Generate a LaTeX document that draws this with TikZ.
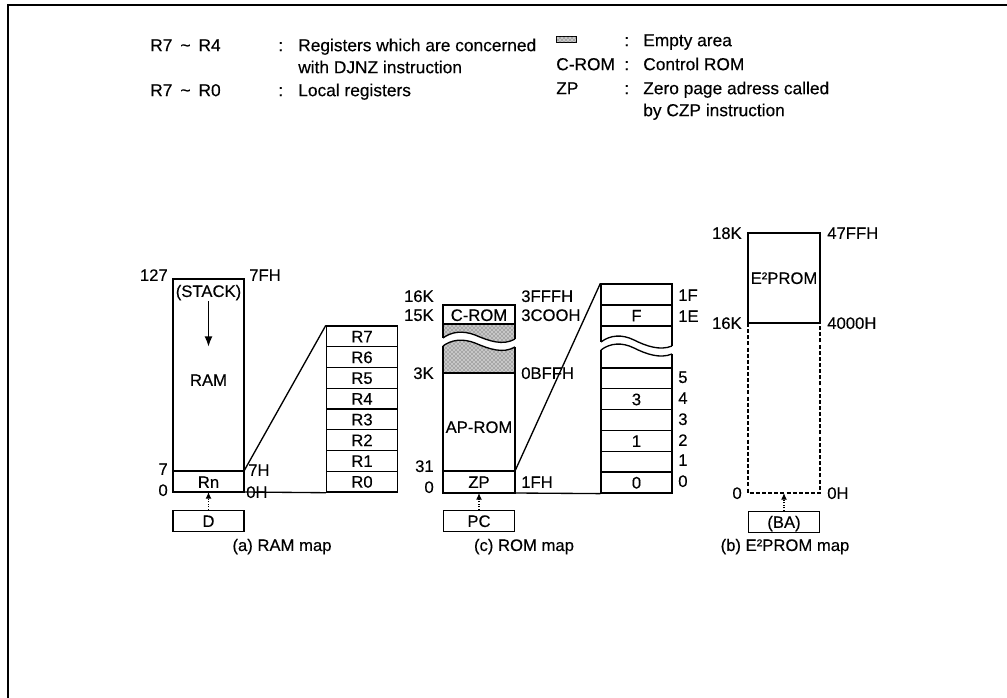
\documentclass[tikz,border=0pt]{standalone}
\usepackage{fontspec}
\setmainfont[FakeBold=0.3]{Liberation Sans}
\usetikzlibrary{patterns,arrows.meta}
\begin{document}
\begin{tikzpicture}[x=0.75pt,y=-0.75pt,
  lbl/.style={inner sep=0pt,font=\fontsize{12.5}{14}\selectfont,text height=8.95pt,text depth=0pt},
  leg/.style={inner sep=0pt,anchor=west,font=\fontsize{13}{15}\selectfont,text height=9.3pt,text depth=0pt},
  ln/.style={line width=1pt},
  cell/.style={lbl,draw,line width=1pt,minimum width=53.25pt,minimum height=15.6pt},
  ptr/.style={line width=0.9pt,densely dotted,-{Latex[length=5pt,width=4.5pt]}},
  emptyarea/.style={fill=black!22,postaction={pattern=crosshatch dots,pattern color=black!75}},
  dsh/.style={line width=1pt,dash pattern=on 3pt off 1.6pt},
]
\useasboundingbox (0,0) rectangle (1007,698);
\draw[line width=1.6pt] (1007,5) -- (8,5) -- (8,698);

% ---------- legend ----------
\node[leg] (l1a) at (150,45) {R7\hspace{6pt}\textasciitilde\hspace{6pt}R4};
\node[leg] (l1c) at (278,45) {:};
\node[leg] (l1t) at (298,45) {Registers which are concerned};
\node[leg] (l2t) at (298,67) {with DJNZ instruction};
\node[leg] (l3a) at (150,90) {R7\hspace{6pt}\textasciitilde\hspace{6pt}R0};
\node[leg] (l3c) at (278,90) {:};
\node[leg] (l3t) at (298,90) {Local registers};
\node[draw,line width=0.6pt,emptyarea,minimum width=15pt,minimum height=5pt,inner sep=0pt] (lgempty) at (566,39.5) {};
\node[leg] (r1c) at (624,40) {:};
\node[leg] (r1t) at (643,40) {Empty area};
\node[leg] (r2a) at (556,64) {C-ROM};
\node[leg] (r2c) at (624,64) {:};
\node[leg] (r2t) at (643,64) {Control ROM};
\node[leg] (r3a) at (556,88) {ZP};
\node[leg] (r3c) at (624,88) {:};
\node[leg] (r3t) at (643,88) {Zero page adress called};
\node[leg] (r4t) at (643,110) {by CZP instruction};

% ---------- (a) RAM map ----------
\draw[ln] (173,279) rectangle (244,492);
\draw[ln] (173,471) -- (244,471);
\coordinate (ram7) at (244,471);
\coordinate (ram0) at (244,492);
\coordinate (ramb) at (208.5,492);
\coordinate (stkend) at (208.5,347);
\node[lbl] (stack) at (208.5,291) {(STACK)};
\draw[line width=1.3pt,-{Latex[length=8pt,width=6pt]}] (stack.south) ++(0,4) -- (stkend);
\node[lbl] (ram) at (208.5,380) {RAM};
\node[lbl] (rn) at (208.5,482) {Rn};
\node[lbl,anchor=east] (a127) at (168,275) {127};
\node[lbl,anchor=east] (a7) at (168,469) {7};
\node[lbl,anchor=east] (a0) at (168,490) {0};
\node[lbl,anchor=west] (h7f) at (249,275) {7FH};
\node[lbl,anchor=west] (h7) at (248,470) {7H};
\node[lbl,anchor=west] (h0) at (246,492) {0H};
\foreach \n [count=\i from 0] in {R7,R6,R5,R4,R3,R2,R1,R0}
  \node[cell] (\n) at (362,{336.4+20.75*\i}) {\n};
\draw[ln] (ram7) -- (R7.north west);
\draw[ln] (ram0) -- (R0.south west);
\node[cell] (dbox) at (208.5,521) {D};
\draw[ptr] (dbox.north) -- (ramb);
\node[lbl] (capa) at (282,545) {(a) RAM map};

% ---------- (c) ROM map ----------
\path[emptyarea] (443,324) -- (443,338) .. controls (451,332) and (462,330) .. (475,335) .. controls (489,341) and (503,346) .. (515,339) -- (515,324) -- cycle;
\path[emptyarea] (443,346) .. controls (451,340) and (462,338) .. (475,343) .. controls (489,349) and (503,354) .. (515,347) -- (515,373) -- (443,373) -- cycle;
\draw[ln] (443,338) -- (443,305) -- (515,305) -- (515,339);
\draw[ln] (443,338) .. controls (451,332) and (462,330) .. (475,335) .. controls (489,341) and (503,346) .. (515,339);
\draw[ln] (443,346) .. controls (451,340) and (462,338) .. (475,343) .. controls (489,349) and (503,354) .. (515,347);
\draw[ln] (443,346) -- (443,493) -- (515,493) -- (515,347);
\draw[ln] (443,324) -- (515,324);
\draw[ln] (443,373) -- (515,373);
\draw[ln] (443,471) -- (515,471);
\coordinate (zptop) at (515,471);
\coordinate (rombot) at (515,493);
\coordinate (romb) at (479,493);
\node[lbl] (crom) at (479,315) {C-ROM};
\node[lbl] (aprom) at (479,427) {AP-ROM};
\node[lbl] (zp) at (479,482) {ZP};
\node[lbl,anchor=east] (k16) at (434,296) {16K};
\node[lbl,anchor=east] (k15) at (434,315) {15K};
\node[lbl,anchor=east] (k3) at (434,373) {3K};
\node[lbl,anchor=east] (k31) at (434,466) {31};
\node[lbl,anchor=east] (k0) at (434,487) {0};
\node[lbl,anchor=west] (h3fff) at (521,296) {3FFFH};
\node[lbl,anchor=west] (h3c00) at (521,315) {3COOH};
\node[lbl,anchor=west] (h0bff) at (521,373) {0BFFH};
\node[lbl,anchor=west] (h1f) at (521,482) {1FH};
% second stack
\node[cell] (c1f) at (636.5,294.5) {};
\node[cell] (c1e) at (636.5,315.5) {F};
\draw[ln] (601,326) -- (601,342);
\draw[ln] (672,326) -- (672,346);
\draw[ln] (601,342) .. controls (610,335) and (622,334) .. (634,340) .. controls (646,346) and (660,351) .. (672,346);
\draw[ln] (601,350) .. controls (610,343) and (622,342) .. (634,348) .. controls (646,354) and (660,359) .. (672,354);
\draw[ln] (601,350) -- (601,368);
\draw[ln] (672,354) -- (672,368);
\foreach \n/\t [count=\i from 0] in {c5/,c4/3,c3/,c2/1,c1/,c0/0}
  \node[cell] (\n) at (636.5,{378.4+20.83*\i}) {\t};
\foreach \t/\yy [count=\i] in {1F/295,1E/316,5/377,4/398,3/419,2/440,1/460,0/481}
  \node[lbl,anchor=west] (s\i) at (678,\yy) {\t};
\draw[ln] (zptop) -- (c1f.north west);
\draw[ln] (rombot) -- (c0.south west);
\node[cell] (pc) at (479,521) {PC};
\draw[ptr] (pc.north) -- (romb);
\node[lbl] (capc) at (524,545) {(c) ROM map};

% ---------- (b) E2PROM map ----------
\draw[ln] (748,323) -- (748,233) -- (820,233) -- (820,323) -- cycle;
\draw[dsh] (748,323) -- (748,493) -- (820,493) -- (820,323);
\coordinate (eb) at (784,493);
\node[lbl] (e2) at (784,278) {E²PROM};
\node[lbl,anchor=east] (e18) at (742,233) {18K};
\node[lbl,anchor=east] (e16) at (742,323) {16K};
\node[lbl,anchor=east] (e0) at (742,493) {0};
\node[lbl,anchor=west] (e47) at (827,233) {47FFH};
\node[lbl,anchor=west] (e40) at (827,323) {4000H};
\node[lbl,anchor=west] (e0h) at (827,493) {0H};
\node[cell] (ba) at (784,522) {(BA)};
\draw[ptr] (ba.north) -- (eb);
\node[lbl] (capb) at (785,545) {(b) E²PROM map};
\end{tikzpicture}
\end{document}
